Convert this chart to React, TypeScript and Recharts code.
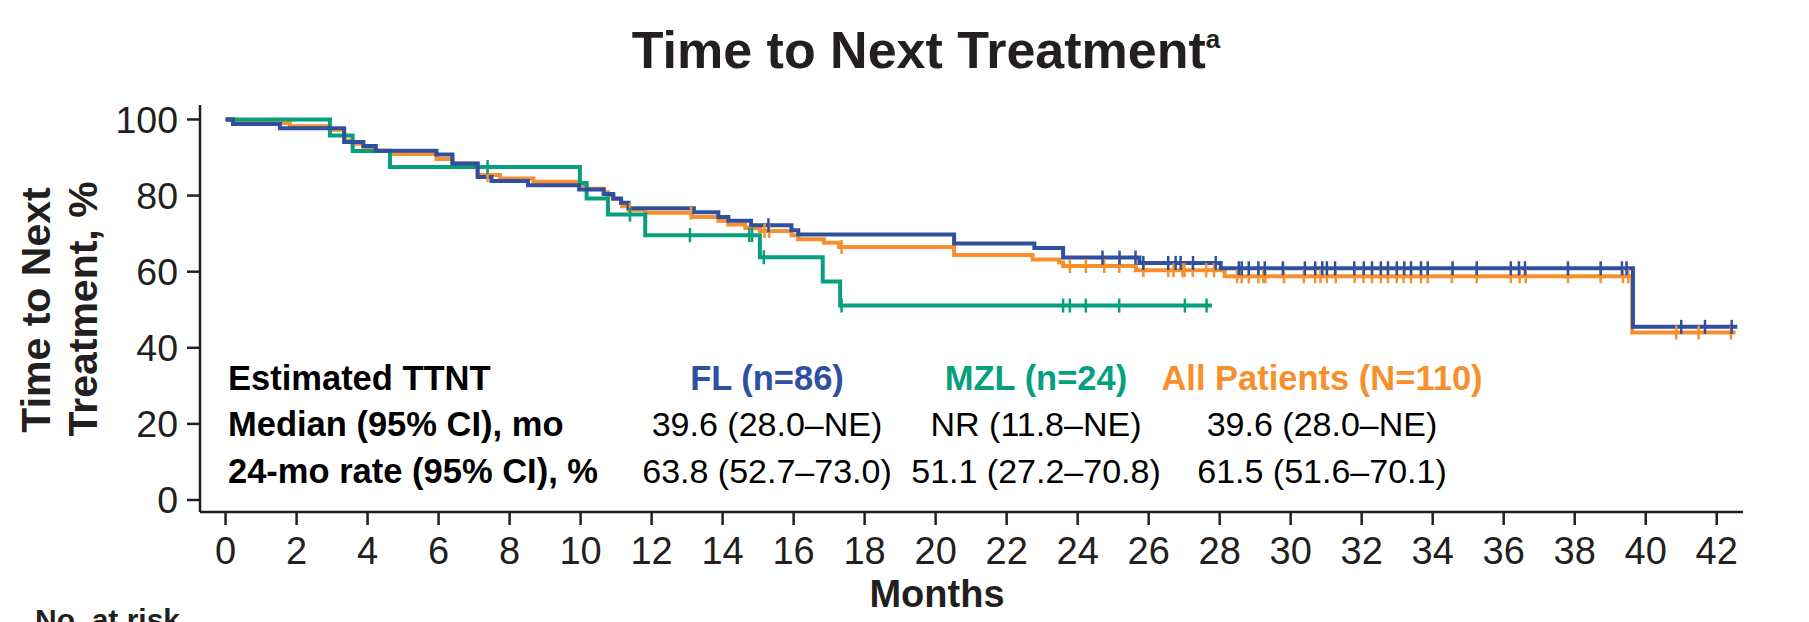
import { LineChart, Line, XAxis, YAxis, Customized } from 'recharts';

type Pt = { t: number; v: number; censor?: boolean };

const monthTicks = [0, 2, 4, 6, 8, 10, 12, 14, 16, 18, 20, 22, 24, 26, 28, 30, 32, 34, 36, 38, 40, 42];
const pctTicks = [0, 20, 40, 60, 80, 100];

// FL (n=86)
const flEventMonths = [0, 0.21, 1.53, 3.34, 3.88, 4.23, 5.94, 6.39, 7.1, 7.49, 8.52, 9.96, 10.65, 10.92, 11.14, 11.35, 13.19, 13.88, 14.16, 14.8, 15.94, 16.13, 20.52, 22.78, 23.59, 25.74, 28.03, 39.64];
const flSurvival = [100, 98.8, 97.7, 94.1, 93.0, 91.8, 90.8, 88.4, 84.9, 83.8, 82.7, 81.6, 80.4, 79.2, 78.1, 76.7, 75.6, 74.4, 73.4, 72.2, 70.9, 69.8, 67.4, 66.2, 63.7, 62.3, 60.9, 45.5];
const flCensorMonths = [15.29, 24.7, 25.18, 25.63, 25.85, 26.55, 26.76, 26.9, 27.25, 27.89, 28.54, 28.62, 28.82, 29.09, 29.27, 29.78, 30.4, 30.69, 30.89, 31.02, 31.25, 31.79, 32.06, 32.29, 32.54, 32.74, 32.99, 33.2, 33.39, 33.67, 33.86, 34.56, 35.24, 36.2, 36.43, 36.6, 37.81, 38.73, 39.33, 39.46, 41.0, 41.67, 42.42];
const flLastMonth = 42.58;

// MZL (n=24)
const mzlEventMonths = [0, 2.94, 3.58, 4.63, 9.98, 10.17, 10.77, 11.82, 15.05, 16.82, 17.31];
const mzlSurvival = [100, 95.8, 91.7, 87.5, 83.3, 79.2, 75.0, 69.6, 63.8, 57.4, 51.1];
const mzlCensorMonths = [7.38, 11.39, 13.08, 14.75, 14.83, 15.16, 17.35, 23.59, 23.78, 24.23, 25.17, 27.02, 27.63];
const mzlLastMonth = 27.78;

// All patients (N=110)
const allEventMonths = [0, 0.21, 1.81, 2.94, 3.34, 3.58, 3.88, 4.23, 4.63, 5.94, 6.39, 7.1, 7.73, 8.67, 9.98, 10.17, 10.65, 10.77, 10.92, 11.14, 11.17, 11.35, 11.82, 13.13, 13.88, 14.16, 14.64, 15.05, 15.94, 16.13, 16.85, 17.28, 20.52, 22.73, 23.48, 23.59, 25.64, 28.14, 39.62];
const allSurvival = [100, 99.1, 98.2, 97.3, 94.5, 93.6, 92.7, 91.8, 90.9, 89.6, 88.4, 85.4, 84.5, 83.6, 82.7, 81.8, 80.9, 80.0, 79.1, 78.1, 77.2, 76.3, 75.5, 74.4, 73.4, 72.4, 71.5, 70.7, 69.6, 68.5, 67.6, 66.5, 64.4, 63.2, 62.4, 61.5, 60.4, 58.8, 44.0];
const allCensorMonths = [7.38, 11.39, 13.11, 15.18, 15.31, 17.35, 23.78, 24.23, 24.75, 25.17, 25.85, 26.55, 26.7, 26.95, 27.01, 27.24, 27.62, 27.84, 28.49, 28.62, 28.82, 29.09, 29.23, 29.29, 29.81, 30.37, 30.69, 30.84, 31.02, 31.27, 31.8, 32.05, 32.29, 32.54, 32.74, 32.99, 33.18, 33.39, 33.67, 33.86, 34.54, 35.24, 36.2, 36.45, 36.62, 37.81, 38.73, 39.36, 39.51, 40.86, 41.49, 42.4];
const allLastMonth = 42.53;

const rowLabels = ['Estimated TTNT', 'Median (95% CI), mo', '24-mo rate (95% CI), %'];
const groupHeads = ['FL (n=86)', 'MZL (n=24)', 'All Patients (N=110)'];
const medianCells = ['39.6 (28.0–NE)', 'NR (11.8–NE)', '39.6 (28.0–NE)'];
const rateCells = ['63.8 (52.7–73.0)', '51.1 (27.2–70.8)', '61.5 (51.6–70.1)'];

const BLUE = '#2F4F9F';
const GREEN = '#07A07E';
const ORANGE = '#F7902C';
const INK = '#231F20';
const groupColors = [BLUE, GREEN, ORANGE];
const FONT = "'Liberation Sans', Arial, sans-serif";

function buildCurve(eventMonths: number[], survival: number[], censorMonths: number[], lastMonth: number): Pt[] {
  const levelAt = (t: number) => {
    let v = survival[0];
    eventMonths.forEach((e, i) => {
      if (e <= t) v = survival[i];
    });
    return v;
  };
  const pts: Pt[] = eventMonths.map((t, i) => ({ t, v: survival[i] }));
  censorMonths.forEach((t) => pts.push({ t, v: levelAt(t), censor: true }));
  pts.push({ t: lastMonth, v: levelAt(lastMonth) });
  return pts.sort((a, b) => a.t - b.t);
}

const flData = buildCurve(flEventMonths, flSurvival, flCensorMonths, flLastMonth);
const mzlData = buildCurve(mzlEventMonths, mzlSurvival, mzlCensorMonths, mzlLastMonth);
const allData = buildCurve(allEventMonths, allSurvival, allCensorMonths, allLastMonth);

const censorDot = (color: string) => (props: any) => {
  const { cx, cy, payload, index } = props;
  if (!payload || !payload.censor) return <g key={`n-${index}`} />;
  return <line key={`c-${index}`} x1={cx} x2={cx} y1={cy - 7} y2={cy + 7} stroke={color} strokeWidth={2.5} />;
};

const colX = [759, 1028, 1314];
const rowY = [382, 428, 475];

function Overlay() {
  return (
    <g style={{ fontFamily: FONT }}>
      <text x={918} y={60} textAnchor="middle" fontSize={52} fontWeight="bold" fill={INK}>
        Time to Next Treatment
        <tspan fontSize={26} dy={-20}>a</tspan>
      </text>
      <text transform="rotate(-90, 42, 302)" x={42} y={302} textAnchor="middle" fontSize={41} fontWeight="bold" fill={INK}>
        Time to Next
      </text>
      <text transform="rotate(-90, 89, 301)" x={89} y={301} textAnchor="middle" fontSize={41} fontWeight="bold" fill={INK}>
        Treatment, %
      </text>
      <text x={929} y={599} textAnchor="middle" fontSize={38} fontWeight="bold" fill={INK}>
        Months
      </text>
      <text x={27} y={622} fontSize={30} fontWeight="bold" fill={INK}>
        No. at risk
      </text>
      {rowLabels.map((label, i) => (
        <text key={label} x={220} y={rowY[i]} fontSize={34.5} fontWeight="bold" fill="#000">
          {label}
        </text>
      ))}
      {groupHeads.map((head, i) => (
        <text key={head} x={colX[i]} y={rowY[0]} textAnchor="middle" fontSize={34.5} fontWeight="bold" fill={groupColors[i]}>
          {head}
        </text>
      ))}
      {medianCells.map((cell, i) => (
        <text key={`m-${i}`} x={colX[i]} y={rowY[1]} textAnchor="middle" fontSize={34} fill="#000">
          {cell}
        </text>
      ))}
      {rateCells.map((cell, i) => (
        <text key={`r-${i}`} x={colX[i]} y={rowY[2]} textAnchor="middle" fontSize={34} fill="#000">
          {cell}
        </text>
      ))}
    </g>
  );
}

export default function App() {
  return (
    <div style={{ width: 1793, height: 614 }}>
      <LineChart width={1793} height={614} margin={{ top: 97, right: 58, bottom: 10, left: 0 }} style={{ fontFamily: FONT }}>
        <XAxis
          type="number"
          dataKey="t"
          domain={[-0.72, 42.74]}
          ticks={monthTicks}
          interval={0}
          allowDataOverflow
          height={100}
          tickSize={13}
          tickMargin={12}
          axisLine={{ stroke: INK, strokeWidth: 2.5 }}
          tickLine={{ stroke: INK, strokeWidth: 2.5 }}
          tick={{ fontSize: 38, fill: INK }}
        />
        <YAxis
          type="number"
          dataKey="v"
          domain={[-3.15, 103.8]}
          ticks={pctTicks}
          interval={0}
          allowDataOverflow
          width={192}
          tickSize={13}
          tickMargin={9}
          axisLine={{ stroke: INK, strokeWidth: 2.5 }}
          tickLine={{ stroke: INK, strokeWidth: 2.5 }}
          tick={{ fontSize: 37.5, fill: INK }}
        />
        <Line data={allData} dataKey="v" type="stepAfter" stroke={ORANGE} strokeWidth={4} dot={censorDot(ORANGE)} activeDot={false} isAnimationActive={false} />
        <Line data={mzlData} dataKey="v" type="stepAfter" stroke={GREEN} strokeWidth={4} dot={censorDot(GREEN)} activeDot={false} isAnimationActive={false} />
        <Line data={flData} dataKey="v" type="stepAfter" stroke={BLUE} strokeWidth={4} dot={censorDot(BLUE)} activeDot={false} isAnimationActive={false} />
        <Customized component={Overlay} />
      </LineChart>
    </div>
  );
}
